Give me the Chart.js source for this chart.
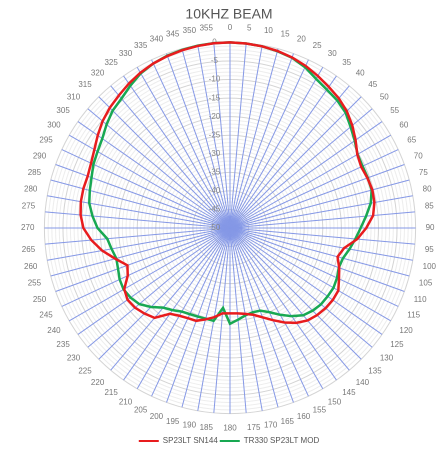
<!DOCTYPE html>
<html>
<head>
<meta charset="utf-8">
<script src="https://cdn.jsdelivr.net/npm/chart.js@4/dist/chart.umd.min.js"></script>
<style>
  html, body { margin: 0; padding: 0; background: #fff; }
  #wrap { width: 444px; height: 455px; }
</style>
</head>
<body>
<div id="wrap"><canvas id="beam"></canvas></div>
<script>
// bearing labels, every 5 degrees clockwise from the top
const angles = [
  '0','5','10','15','20','25','30','35','40','45','50','55',
  '60','65','70','75','80','85','90','95','100','105','110','115',
  '120','125','130','135','140','145','150','155','160','165','170','175',
  '180','185','190','195','200','205','210','215','220','225','230','235',
  '240','245','250','255','260','265','270','275','280','285','290','295',
  '300','305','310','315','320','325','330','335','340','345','350','355'
];

// dB readings, one per bearing
const sp23ltSn144 = [
  0, -0.1, -0.3, -0.6, -1.1, -1.8, -2.7, -3.6, -4.4, -5.5, -7.0, -8.7,
  -10.4, -11.0, -10.6, -10.3, -10.5, -11.3, -13.3, -15.6, -18.8, -20.0, -18.7, -17.6,
  -16.3, -16.2, -16.4, -16.8, -17.5, -18.8, -20.6, -22.6, -24.4, -25.8, -26.5, -26.9,
  -27.0, -26.9, -25.6, -24.5, -23.4, -23.2, -22.7, -21.8, -18.4, -17.4, -16.6, -16.3,
  -17.1, -19.6, -20.6, -18.0, -15.0, -12.5, -10.5, -9.6, -9.2, -9.1, -9.2, -8.7,
  -7.8, -6.5, -5.2, -4.2, -3.4, -2.5, -1.7, -1.1, -0.7, -0.4, -0.2, -0.05
];

const tr330Sp23ltMod = [
  0, -0.1, -0.3, -0.7, -1.2, -2.2, -3.6, -4.5, -5.1, -6.0, -7.6, -9.0,
  -10.3, -10.6, -10.5, -10.5, -11.5, -13.2, -14.8, -16.1, -17.3, -18.5, -18.8, -18.2,
  -17.8, -17.9, -18.0, -18.5, -19.3, -21.0, -23.0, -25.0, -26.3, -26.5, -26.1, -25.2,
  -24.2, -28.4, -24.6, -24.7, -24.6, -24.4, -24.0, -23.0, -22.0, -19.9, -18.1, -17.3,
  -16.9, -17.2, -17.9, -18.3, -17.6, -16.8, -14.3, -12.8, -11.5, -10.9, -10.3, -9.4,
  -8.8, -8.0, -6.6, -5.3, -4.5, -3.2, -1.9, -1.1, -0.6, -0.3, -0.1, 0
];

// radial scale range in dB, a ring every 1 dB, a label every 5
const rMin = -50;
const rMax = 0;
const rStep = 1;
const labelEvery = 5;

const RED = 'rgb(232, 28, 30)';
const GREEN = 'rgb(24, 168, 82)';
const FONT = 'Liberation Sans, Arial, sans-serif';

// pushes the centred dB labels to the left of the 0 spoke
const pad = '\u00a0'.repeat(14);

new Chart(document.getElementById('beam'), {
  type: 'radar',
  data: {
    labels: angles,
    datasets: [{
      label: 'SP23LT SN144',
      data: sp23ltSn144,
      borderColor: RED,
      backgroundColor: RED,
      borderWidth: 2.5,
      pointRadius: 0,
      fill: false,
      tension: 0
    }, {
      label: 'TR330 SP23LT MOD',
      data: tr330Sp23ltMod,
      borderColor: GREEN,
      backgroundColor: GREEN,
      borderWidth: 2.5,
      pointRadius: 0,
      fill: false,
      tension: 0
    }]
  },
  options: {
    responsive: true,
    maintainAspectRatio: false,
    animation: false,
    devicePixelRatio: 2,
    layout: { padding: { top: 0, bottom: 0, left: 14, right: 0 } },
    plugins: {
      title: {
        display: true,
        text: '10KHZ BEAM',
        color: '#555',
        font: { size: 14, weight: 'normal', family: FONT },
        padding: { top: 6, bottom: 0 }
      },
      legend: {
        position: 'bottom',
        labels: {
          boxWidth: 20,
          boxHeight: 2,
          color: '#555',
          font: { size: 8, family: FONT },
          padding: 2,
          generateLabels: (chart) => {
            const items = Chart.defaults.plugins.legend.labels.generateLabels(chart);
            items.forEach(it => { it.lineWidth = 0; });
            return items;
          }
        }
      },
      tooltip: { enabled: false }
    },
    scales: {
      r: {
        min: rMin,
        max: rMax,
        startAngle: 0,
        afterBuildTicks: (scale) => {
          const t = [];
          for (let v = rMin; v <= rMax; v += rStep) t.push({ value: v });
          scale.ticks = t;
        },
        ticks: {
          autoSkip: false,
          showLabelBackdrop: false,
          color: '#888',
          font: { size: 8, family: FONT },
          callback: (v) => (v % labelEvery === 0 ? v + pad : '')
        },
        grid: {
          circular: true,
          color: (ctx) => (ctx.tick && ctx.tick.value % labelEvery === 0 ? '#d4d4d4' : '#ededed'),
          lineWidth: 1
        },
        angleLines: {
          color: '#8598e6',
          lineWidth: 1
        },
        pointLabels: {
          color: '#777',
          font: { size: 8, family: FONT },
          padding: 4
        }
      }
    }
  }
});
</script>
</body>
</html>
